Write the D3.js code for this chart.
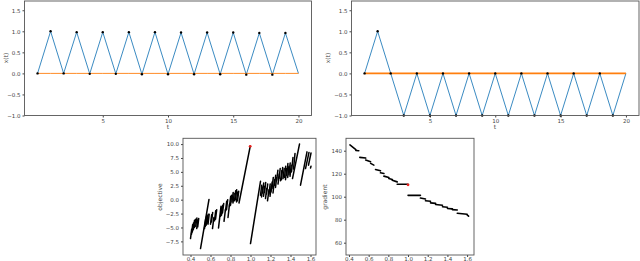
<!DOCTYPE html>
<html>
<head>
<meta charset="utf-8">
<script src="https://cdn.jsdelivr.net/npm/d3@7"></script>
<style>
  body { margin: 0; background: #fff; }
  svg { display: block; font-family: "DejaVu Sans", sans-serif; }
  .tick text { fill: #444; }
  .tick line { stroke: #444; }
  .domain { display: none; }
</style>
</head>
<body>
<div id="chart"></div>
<script>

var width = 640;
var height = 261;

// top panels: t = 0..20
var tSteps = [0,1,2,3,4,5,6,7,8,9,10,11,12,13,14,15,16,17,18,19,20];
var xLeft = [0, 1.0, 0, 0.98, -0.01, 0.98, -0.01, 0.98, -0.02, 0.98, -0.02, 0.97, -0.02, 0.97, -0.02, 0.97, -0.03, 0.96, -0.03, 0.96, 0];
var xRight = [0, 1, 0, -1, 0, -1, 0, -1, 0, -1, 0, -1, 0, -1, 0, -1, 0, -1, 0, -1, 0];
var baseline = [0,0,0,0,0,0,0,0,0,0,0,0,0,0,0,0,0,0,0,0,0];
var topYTicks = [-1.0, -0.5, 0.0, 0.5, 1.0, 1.5];
var topXTicks = [5, 10, 15, 20];

// bottom-left: objective strokes [x0, y0, x1, y1]
var objStrokes = [
  [0.400,-7.0,0.412,-5.3], [0.410,-6.2,0.422,-4.5], [0.418,-5.8,0.430,-4.2],
  [0.428,-5.4,0.440,-3.7], [0.440,-5.0,0.452,-3.5], [0.452,-4.8,0.464,-3.3],
  [0.462,-5.2,0.474,-3.6], [0.472,-4.9,0.482,-3.4],
  [0.500,-8.8,0.585,0.05],
  [0.540,-5.2,0.552,-3.5], [0.548,-4.8,0.560,-3.0], [0.556,-4.6,0.568,-2.9],
  [0.565,-4.3,0.577,-2.6], [0.575,-4.4,0.587,-2.6], [0.600,-4.4,0.612,-2.7],
  [0.610,-4.0,0.622,-2.3], [0.620,-5.2,0.634,-3.2], [0.640,-3.8,0.652,-2.0],
  [0.650,-3.5,0.662,-1.8], [0.680,-5.1,0.705,-1.2],
  [0.700,-3.0,0.712,-1.3], [0.710,-2.8,0.722,-1.0], [0.720,-2.4,0.732,-0.7],
  [0.735,-3.9,0.750,-1.7], [0.750,-2.0,0.762,-0.3], [0.760,-1.8,0.772,0.0],
  [0.775,-3.2,0.790,-0.8], [0.790,-1.2,0.802,0.6], [0.800,-1.0,0.812,0.8],
  [0.815,-0.4,0.827,1.3], [0.825,-0.6,0.837,1.1], [0.840,-0.2,0.852,1.6],
  [0.850,0.0,0.862,1.8], [0.860,-0.4,0.872,1.4], [0.870,-0.2,0.882,1.5],
  [0.885,-0.6,0.997,9.6],
  [1.000,-7.9,1.100,3.3],
  [1.100,0.8,1.112,2.6], [1.110,0.5,1.122,2.3], [1.120,1.2,1.132,3.0],
  [1.130,0.6,1.142,2.4], [1.140,1.3,1.152,3.1], [1.150,0.2,1.162,2.0],
  [1.160,1.0,1.172,2.8], [1.170,-0.2,1.185,1.8], [1.185,1.0,1.197,2.8],
  [1.195,0.6,1.207,2.4], [1.205,1.4,1.217,3.2],
  [1.215,2.0,1.228,4.0], [1.225,1.2,1.240,3.6], [1.240,2.6,1.252,4.4],
  [1.250,2.2,1.262,4.0], [1.262,3.5,1.274,5.3], [1.275,2.8,1.287,4.6],
  [1.285,3.8,1.297,5.6], [1.300,3.4,1.312,5.2], [1.310,3.6,1.322,5.8],
  [1.325,3.8,1.337,5.6],
  [1.340,4.0,1.352,6.0], [1.350,3.6,1.362,5.6], [1.362,4.4,1.374,6.5],
  [1.372,4.0,1.384,6.0], [1.385,4.5,1.397,6.6], [1.395,4.2,1.407,6.2],
  [1.410,5.0,1.425,7.6], [1.430,5.5,1.445,8.3],
  [1.420,3.8,1.490,10.0],
  [1.500,2.6,1.565,8.6],
  [1.550,5.6,1.585,8.5], [1.580,6.2,1.605,8.4], [1.600,5.7,1.605,6.0]
];
var objLast = [0.997, 9.6];
var objYTicks = [-7.5, -5.0, -2.5, 0.0, 2.5, 5.0, 7.5, 10.0];

// bottom-right: gradient steps [x0, y0, x1, y1]
var gradSteps = [
  [0.41,145.0,0.47,141.0], [0.47,140.2,0.50,140.0],
  [0.51,134.2,0.57,133.6], [0.57,131.9,0.62,130.4],
  [0.62,129.0,0.653,127.5], [0.67,123.7,0.72,122.5],
  [0.72,120.8,0.755,120.2], [0.755,117.9,0.805,116.7],
  [0.805,115.8,0.84,115.0], [0.84,114.4,0.89,112.9],
  [0.89,110.9,1.00,110.9],
  [1.00,101.2,1.126,101.2], [1.126,98.8,1.177,98.0],
  [1.177,96.5,1.228,96.0], [1.228,94.6,1.28,94.2],
  [1.28,93.2,1.35,92.6], [1.35,91.2,1.40,90.8],
  [1.40,89.8,1.45,89.4], [1.45,88.8,1.50,88.4],
  [1.50,85.6,1.60,84.8], [1.60,84.2,1.615,83.1]
];
var gradLast = [1.0, 110.3];
var gradYTicks = [60, 80, 100, 120, 140];
var bottomXTicks = [0.4, 0.6, 0.8, 1.0, 1.2, 1.4, 1.6];

var svg = d3.select("#chart").append("svg")
    .attr("width", width)
    .attr("height", height);

var fmt1 = d3.format(".1f");

function frame(g, x0, y0, x1, y1){
    g.append("rect")
        .attr("x", x0).attr("y", y0)
        .attr("width", x1 - x0).attr("height", y1 - y0)
        .attr("fill", "none")
        .attr("stroke", "#555")
        .attr("stroke-width", 0.9);
}

function axes(g, xScale, yScale, xTicks, yTicks, xFmt, yFmt, yBottom, xLeft, xPad){
    g.append("g")
        .attr("transform", "translate(0," + yBottom + ")")
        .call(d3.axisBottom(xScale).tickValues(xTicks).tickFormat(xFmt).tickSize(2).tickPadding(xPad))
        .attr("font-size", 5.5)
        .attr("font-family", null);
    g.append("g")
        .attr("transform", "translate(" + xLeft + ",0)")
        .call(d3.axisLeft(yScale).tickValues(yTicks).tickFormat(yFmt).tickSize(2).tickPadding(2))
        .attr("font-size", 5.5)
        .attr("font-family", null);
}

function label(g, text, x, y, rotate){
    g.append("text")
        .attr("transform", "translate(" + x + "," + y + ")" + (rotate ? " rotate(-90)" : ""))
        .attr("text-anchor", "middle")
        .attr("font-size", 6)
        .attr("fill", "#444")
        .text(text);
}

// ---- top panels ----
function topPanel(left, right, values, orangeWidth){
    var g = svg.append("g");
    var x = d3.scaleLinear().domain([-1, 21]).range([left, right]);
    var y = d3.scaleLinear().domain([-1, 1.72]).range([115.5, 1]);

    axes(g, x, y, topXTicks, topYTicks, d3.format("d"), fmt1, 115.5, left, 2);

    var line = d3.line()
        .x((d, i) => x(tSteps[i]))
        .y(d => y(d));

    g.append("path")
        .datum(values)
        .attr("d", line)
        .attr("fill", "none")
        .attr("stroke", "#3b8bc2")
        .attr("stroke-width", 1);

    g.append("path")
        .datum(baseline)
        .attr("d", line)
        .attr("fill", "none")
        .attr("stroke", "#ff7f0e")
        .attr("stroke-width", orangeWidth);

    g.selectAll(".pt")
        .data(values.slice(0, 20))
        .enter()
        .append("circle")
        .attr("class", "pt")
        .attr("cx", (d, i) => x(tSteps[i]))
        .attr("cy", d => y(d))
        .attr("r", 1.2)
        .attr("fill", "#000");

    frame(g, left, 1, right, 115.5);
    return {g: g, x: x};
}

var tl = topPanel(24.5, 311.5, xLeft, 0.9);
label(tl.g, "x(t)", 8, 58, true);
label(tl.g, "t", 168, 129, false);

var tr = topPanel(351.5, 639, xRight, 1.6);
label(tr.g, "x(t)", 330, 58, true);
label(tr.g, "t", 495, 129, false);

// ---- bottom-left: objective ----
var gObj = svg.append("g");
var xObj = d3.scaleLinear().domain([0.325, 1.655]).range([183, 316]);
var yObj = d3.scaleLinear().domain([-9.95, 11.04]).range([255, 138.3]);
axes(gObj, xObj, yObj, bottomXTicks, objYTicks, fmt1, fmt1, 255, 183, 0.5);

gObj.selectAll(".stroke")
    .data(objStrokes)
    .enter()
    .append("line")
    .attr("x1", d => xObj(d[0]))
    .attr("y1", d => yObj(d[1]))
    .attr("x2", d => xObj(d[2]))
    .attr("y2", d => yObj(d[3]))
    .attr("stroke", "#000")
    .attr("stroke-width", 1.5)
    .attr("stroke-linecap", "round");

gObj.append("circle")
    .attr("cx", xObj(objLast[0]))
    .attr("cy", yObj(objLast[1]))
    .attr("r", 1.4)
    .attr("fill", "#e8201c");

frame(gObj, 183, 138.3, 316, 255);
label(gObj, "objective", 162, 197, true);

// ---- bottom-right: gradient ----
var gGrad = svg.append("g");
var xGrad = d3.scaleLinear().domain([0.37, 1.67]).range([346, 474]);
var yGrad = d3.scaleLinear().domain([49.3, 150.8]).range([255, 138.3]);
axes(gGrad, xGrad, yGrad, bottomXTicks, gradYTicks, fmt1, d3.format("d"), 255, 346, 0.5);

gGrad.selectAll(".step")
    .data(gradSteps)
    .enter()
    .append("line")
    .attr("x1", d => xGrad(d[0]))
    .attr("y1", d => yGrad(d[1]))
    .attr("x2", d => xGrad(d[2]))
    .attr("y2", d => yGrad(d[3]))
    .attr("stroke", "#000")
    .attr("stroke-width", 1.6)
    .attr("stroke-linecap", "round");

gGrad.append("circle")
    .attr("cx", xGrad(gradLast[0]))
    .attr("cy", yGrad(gradLast[1]))
    .attr("r", 1.4)
    .attr("fill", "#e8201c");

frame(gGrad, 346, 138.3, 474, 255);
label(gGrad, "gradient", 327, 197, true);

</script>
</body>
</html>
